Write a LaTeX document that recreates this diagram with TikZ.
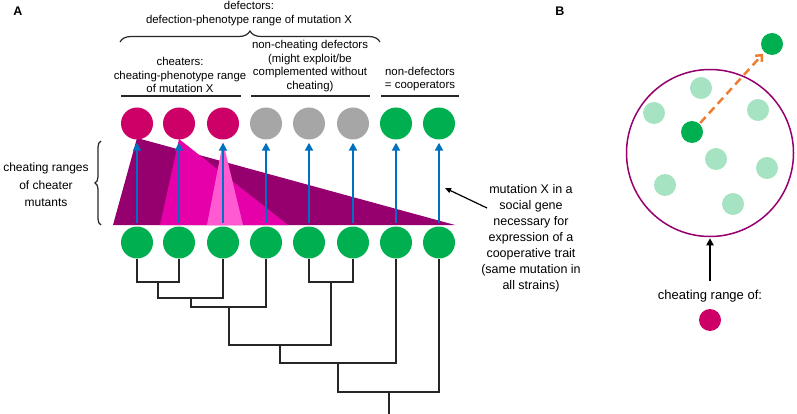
\documentclass[tikz,border=0pt]{standalone}
\usepackage{fontspec}
\setmainfont{Liberation Sans}
\usetikzlibrary{arrows.meta,decorations.pathreplacing}
\definecolor{coopgreen}{HTML}{00B050}
\definecolor{cheatmag}{HTML}{CC0066}
\definecolor{defgrey}{HTML}{A6A6A6}
\definecolor{darkpurple}{HTML}{96006E}
\definecolor{midmag}{HTML}{E600AA}
\definecolor{lightpink}{HTML}{FF5AD2}
\definecolor{mutblue}{HTML}{0070C0}
\definecolor{moveorange}{HTML}{ED7D31}
\tikzset{
  strain/.style={circle, minimum size=32pt, inner sep=0pt},
  cell/.style={circle, minimum size=22pt, inner sep=0pt},
  lbl/.style={align=center, inner sep=0pt, font=\fontsize{11.4}{13.5}\selectfont},
  mutarrow/.style={-{Triangle[width=8pt,length=8pt]}, mutblue, line width=2.5pt, shorten <=3pt, shorten >=3pt},
  tree/.style={line width=1.2pt, black!85},
  bar/.style={line width=1.2pt, black!85},
}
\begin{document}
\begin{tikzpicture}[x=1pt, y=-1pt]
        \useasboundingbox (0,0) rectangle (797,414);

        % panel labels
        \node[font=\fontsize{12.5}{14}\selectfont\bfseries] (labA) at (18,11) {A};
        \node[font=\fontsize{12.5}{14}\selectfont\bfseries] (labB) at (560,11) {B};

        % cheating ranges
        \fill[darkpurple] (113,225) -- (137,138) -- (455,225) -- cycle;
        \fill[midmag] (160,225) -- (179,139) -- (288,225) -- cycle;
        \fill[lightpink] (207,225) -- (223,142) -- (243,225) -- cycle;

        % strains
        \node[strain, fill=cheatmag] (t1) at (137,123.5) {};
        \node[strain, fill=cheatmag] (t2) at (179,123.5) {};
        \node[strain, fill=cheatmag] (t3) at (223,123.5) {};
        \node[strain, fill=defgrey] (t4) at (266,123.5) {};
        \node[strain, fill=defgrey] (t5) at (309,123.5) {};
        \node[strain, fill=defgrey] (t6) at (353,123.5) {};
        \node[strain, fill=coopgreen] (t7) at (396,123.5) {};
        \node[strain, fill=coopgreen] (t8) at (439,123.5) {};
        \foreach \i/\x in {1/137,2/179,3/223,4/266,5/309,6/353,7/396,8/439}
          \node[strain, fill=coopgreen] (b\i) at (\x,242.5) {};

        % mutation X
        \foreach \i in {1,...,8}
          \draw[mutarrow] (b\i.north) -- (t\i.south);

        % tree
        \coordinate (j1) at (158,282);
        \coordinate (j2) at (191,298);
        \coordinate (j3) at (229,307);
        \coordinate (j4) at (331,282);
        \coordinate (j5) at (280,345);
        \coordinate (j6) at (338,363);
        \coordinate (j7) at (389,392);
        \coordinate (root) at (389,414);
        \draw[tree] (b1.south) |- (j1) -| (b2.south);
        \draw[tree] (j1) |- (j2) -| (b3.south);
        \draw[tree] (j2) |- (j3) -| (b4.south);
        \draw[tree] (b5.south) |- (j4) -| (b6.south);
        \draw[tree] (j3) |- (j5) -| (j4);
        \draw[tree] (j5) |- (j6) -| (b7.south);
        \draw[tree] (j6) |- (j7) -| (b8.south);
        \draw[tree] (j7) -- (root);

        % groups
        \node[lbl] (defect) at (249,13.5) {defectors:\\defection-phenotype range of mutation X};
        \draw[bar, decorate, decoration={brace, amplitude=11pt}] (120,42) -- (380,42);
        \node[lbl] (cheat) at (180,75) {cheaters:\\cheating-phenotype range\\of mutation X};
        \node[lbl] (noncheat) at (310,66) {non-cheating defectors\\(might exploit/be\\complemented without\\cheating)};
        \node[lbl] (coop) at (420,79) {non-defectors\\= cooperators};
        \draw[bar] (121,96) -- (241,96);
        \draw[bar] (251,96) -- (370,96);
        \draw[bar] (381,96) -- (459,96);

        % left label
        \draw[bar, decorate, decoration={brace, amplitude=6pt}] (101,225) -- (101,141);
        \node[lbl, font=\fontsize{12}{17.5}\selectfont] (ranges) at (46,185) {cheating ranges\\of cheater\\mutants};

        % right label
        \node[lbl, font=\fontsize{12.5}{16}\selectfont] (mut) at (531,238) {mutation X in a\\social gene\\necessary for\\expression of a\\cooperative trait\\(same mutation in\\all strains)};
        \coordinate (mutfrom) at (487,208);
        \coordinate (mutto) at (445,188);
        \draw[-{Triangle[width=5pt,length=6pt]}, line width=1.2pt] (mutfrom) -- (mutto);

        % panel B
        \node[circle, draw=darkpurple, line width=1.5pt, minimum size=167pt, inner sep=0pt] (range) at (710,153) {};
        \foreach \n/\x/\y in {c1/701/88, c2/654/113, c3/758/110, c4/716/159, c5/767/168, c6/665/185, c7/733/204}
          \node[cell, fill=coopgreen!35] (\n) at (\x,\y) {};
        \node[cell, fill=coopgreen] (inner) at (692,132) {};
        \node[cell, fill=coopgreen] (outer) at (772,44) {};
        \draw[-{Straight Barb[length=5pt,width=9pt]}, moveorange, line width=2.5pt, dash pattern=on 8pt off 5pt, shorten <=1pt, shorten >=2pt] (inner) -- (outer);
        \coordinate (rangefrom) at (710,281);
        \draw[-{Triangle[width=7pt,length=7pt]}, line width=2.5pt, shorten >=1pt] (rangefrom) -- (range.south);
        \node[lbl, font=\fontsize{13}{15}\selectfont] (rangeof) at (710,296) {cheating range of:};
        \node[cell, fill=cheatmag] (cheater) at (710,320) {};
\end{tikzpicture}
\end{document}
